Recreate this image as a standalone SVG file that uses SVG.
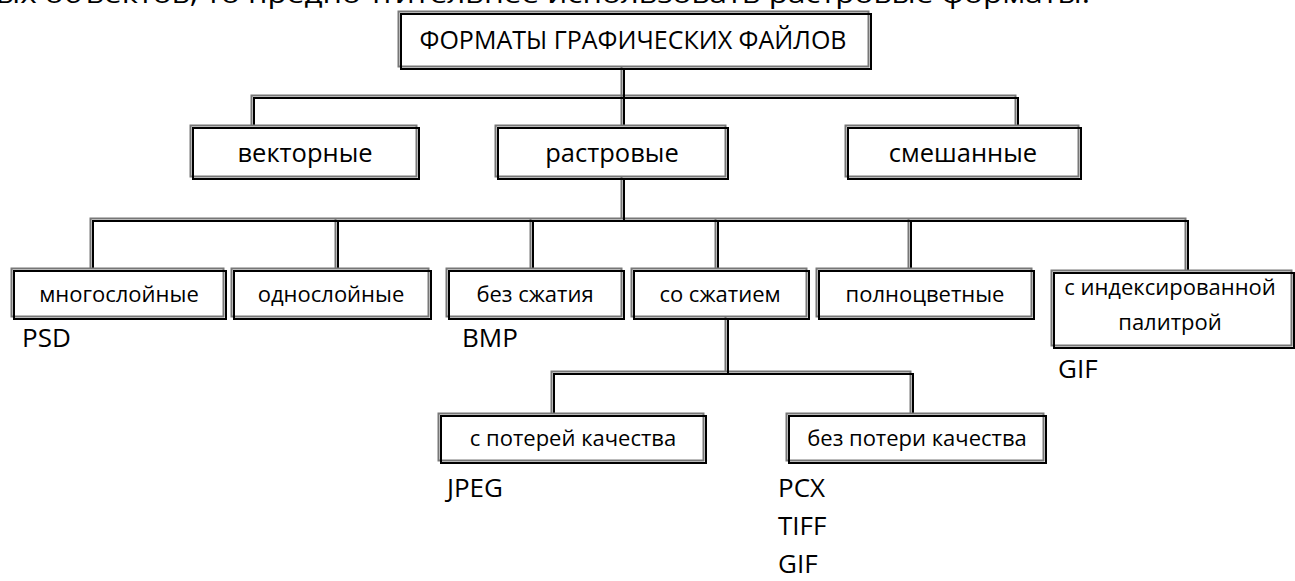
<svg xmlns="http://www.w3.org/2000/svg" xmlns:xlink="http://www.w3.org/1999/xlink" width="1295" height="581" viewBox="0 0 1295 581">
<style>
text{font-family:"Open Sans","Liberation Sans",sans-serif;fill:#000;}
.t0{font-size:25px;text-anchor:middle;}
.t1{font-size:25.5px;text-anchor:middle;}
.t2{font-size:22px;text-anchor:middle;}
.lab{font-size:26px;}
.bg{fill:#fff;stroke:#777;stroke-width:2;}
.bk{fill:none;stroke:#000;stroke-width:2;}
.cg{fill:none;stroke:#777;stroke-width:2;}
.cb{fill:none;stroke:#000;stroke-width:2;}
</style>
<rect width="1295" height="581" fill="#fff"/>
<text x="-4" y="3" style="font-size:26px" textLength="1094" lengthAdjust="spacingAndGlyphs">ых объектов, то предпочтительнее использовать растровые форматы.</text>
<g id="connectors">
<path class="cg" transform="translate(-1.5,-1.5)" d="M623 68V97M253 127V97H1017V127M623 97V127M623 178V220M92 270V220H1187V272M337 220V270M532 220V270M717 220V270M910 220V270M727 318V373M553 415V373H912V415"/>
<path class="cb" transform="translate(1,1)" d="M623 68V97M253 127V97H1017V127M623 97V127M623 178V220M92 270V220H1187V272M337 220V270M532 220V270M717 220V270M910 220V270M727 318V373M553 415V373H912V415"/>
</g>
<g id="root"><rect class="bg" x="398.5" y="11.5" width="470" height="55"/><rect class="bk" x="401" y="14" width="470" height="55"/><text class="t0" x="633" y="49">ФОРМАТЫ ГРАФИЧЕСКИХ ФАЙЛОВ</text></g>
<g id="vector"><rect class="bg" x="190.5" y="125.5" width="226" height="51"/><rect class="bk" x="193" y="128" width="226" height="51"/><text class="t1" x="305" y="162">векторные</text></g>
<g id="raster"><rect class="bg" x="495.5" y="125.5" width="230" height="51"/><rect class="bk" x="498" y="128" width="230" height="51"/><text class="t1" x="612" y="162">растровые</text></g>
<g id="mixed"><rect class="bg" x="845.5" y="125.5" width="233" height="51"/><rect class="bk" x="848" y="128" width="233" height="51"/><text class="t1" x="963" y="162">смешанные</text></g>
<g id="multi"><rect class="bg" x="11.5" y="268.5" width="212" height="48"/><rect class="bk" x="14" y="271" width="212" height="48"/><text class="t2" x="119" y="302">многослойные</text></g>
<g id="single"><rect class="bg" x="231.5" y="268.5" width="197" height="48"/><rect class="bk" x="234" y="271" width="197" height="48"/><text class="t2" x="331" y="302">однослойные</text></g>
<g id="nocomp"><rect class="bg" x="446.5" y="268.5" width="175" height="48"/><rect class="bk" x="449" y="271" width="175" height="48"/><text class="t2" x="535" y="302">без сжатия</text></g>
<g id="comp"><rect class="bg" x="631.5" y="268.5" width="175" height="48"/><rect class="bk" x="634" y="271" width="175" height="48"/><text class="t2" x="720" y="302">со сжатием</text></g>
<g id="full"><rect class="bg" x="816.5" y="268.5" width="215" height="48"/><rect class="bk" x="819" y="271" width="215" height="48"/><text class="t2" x="925" y="302">полноцветные</text></g>
<g id="indexed"><rect class="bg" x="1051.5" y="270.5" width="240" height="75"/><rect class="bk" x="1054" y="273" width="240" height="75"/><text class="t2" x="1170" y="295">с индексированной</text><text class="t2" x="1170" y="330">палитрой</text></g>
<g id="lossy"><rect class="bg" x="438.5" y="413.5" width="265" height="47"/><rect class="bk" x="441" y="416" width="265" height="47"/><text class="t2" x="573" y="446">с потерей качества</text></g>
<g id="lossless"><rect class="bg" x="786.5" y="413.5" width="257" height="47"/><rect class="bk" x="789" y="416" width="257" height="47"/><text class="t2" x="917" y="446">без потери качества</text></g>
<g id="labels">
<text class="lab" x="22" y="347">PSD</text>
<text class="lab" x="462" y="347">BMP</text>
<text class="lab" x="1058" y="378">GIF</text>
<text class="lab" x="447" y="497">JPEG</text>
<text class="lab" x="778" y="497">PCX</text>
<text class="lab" x="778" y="535">TIFF</text>
<text class="lab" x="778" y="573">GIF</text>
</g>
</svg>
